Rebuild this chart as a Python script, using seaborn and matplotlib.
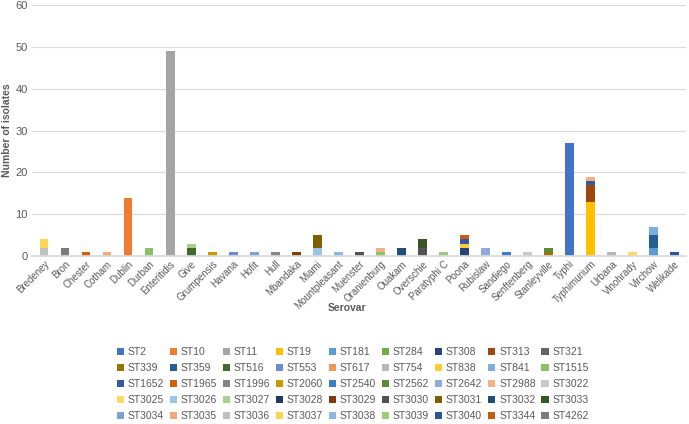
import matplotlib
matplotlib.use("Agg")
import matplotlib.pyplot as plt
from matplotlib.patches import Patch
import seaborn as sns
import pandas as pd

# ----------------- DATA -----------------
serovars = ["Bredeney", "Bron", "Chester", "Cotham", "Dublin", "Durban", "Enteritidis",
            "Give", "Grumpensis", "Havana", "Hofit", "Hull", "Mbandaka", "Miami",
            "Mountpleasant", "Muenster", "Oranienburg", "Ouakam", "Overschie",
            "Paratyphi C", "Poona", "Rubislaw", "Sandiego", "Senftenberg",
            "Stanleyville", "Typhi", "Typhimurium", "Urbana", "Vinohrady",
            "Virchow", "Welikade"]

sts = ["ST2", "ST10", "ST11", "ST19", "ST181", "ST284", "ST308", "ST313", "ST321",
       "ST339", "ST359", "ST516", "ST553", "ST617", "ST754", "ST838", "ST841", "ST1515",
       "ST1652", "ST1965", "ST1996", "ST2060", "ST2540", "ST2562", "ST2642", "ST2988", "ST3022",
       "ST3025", "ST3026", "ST3027", "ST3028", "ST3029", "ST3030", "ST3031", "ST3032", "ST3033",
       "ST3034", "ST3035", "ST3036", "ST3037", "ST3038", "ST3039", "ST3040", "ST3344", "ST4262"]

st_colors = ["#4472C4", "#ED7D31", "#A5A5A5", "#FFC000", "#5B9BD5", "#70AD47", "#264478", "#9E480E", "#636363",
             "#997300", "#255E91", "#43682B", "#698ED0", "#F1975A", "#B7B7B7", "#FFCD33", "#7CAFDD", "#8CC168",
             "#335AA1", "#D26012", "#848484", "#CC9A00", "#3C7DC4", "#5A8A39", "#8FAADC", "#F4B183", "#C9C9C9",
             "#FFD966", "#9DC3E6", "#A9D18E", "#203864", "#843C0C", "#525252", "#7F6000", "#1F4E79", "#385723",
             "#7F9FD9", "#F3A875", "#C0C0C0", "#FFD54F", "#8AB8E2", "#9ACA7C", "#2F5597", "#C55A11", "#7B7B7B"]

# (serovar, ST, isolates)
rec_serovar = ["Bredeney", "Bredeney", "Bron", "Chester", "Cotham", "Dublin", "Durban",
               "Enteritidis", "Give", "Give", "Grumpensis", "Havana", "Hofit", "Hull",
               "Mbandaka", "Miami", "Miami", "Mountpleasant", "Muenster", "Oranienburg",
               "Oranienburg", "Ouakam", "Overschie", "Overschie", "Paratyphi C",
               "Poona", "Poona", "Poona", "Poona", "Rubislaw", "Sandiego", "Senftenberg",
               "Stanleyville", "Stanleyville", "Typhi", "Typhimurium", "Typhimurium",
               "Typhimurium", "Typhimurium", "Urbana", "Vinohrady", "Virchow", "Virchow",
               "Virchow", "Welikade"]
rec_st = ["ST3036", "ST3037", "ST4262", "ST1965", "ST3035", "ST10", "ST1515",
          "ST11", "ST516", "ST3027", "ST2060", "ST553", "ST3034", "ST1996",
          "ST3029", "ST3026", "ST3031", "ST3038", "ST3030", "ST1515",
          "ST2988", "ST3032", "ST3030", "ST3033", "ST3039",
          "ST308", "ST838", "ST1652", "ST3344", "ST2642", "ST2540", "ST3022",
          "ST339", "ST2562", "ST2", "ST19", "ST313",
          "ST1652", "ST2988", "ST754", "ST3025", "ST181", "ST359",
          "ST841", "ST3040"]
rec_count = [2, 2, 2, 1, 1, 14, 2,
             49, 2, 1, 1, 1, 1, 1,
             1, 2, 3, 1, 1, 1,
             1, 2, 2, 2, 1,
             2, 1, 1, 1, 2, 1, 1,
             1, 1, 27, 13, 4,
             1, 1, 1, 1, 2, 3,
             2, 1]

df = pd.DataFrame({"Serovar": rec_serovar, "ST": rec_st, "n": rec_count})
df["Serovar"] = pd.Categorical(df["Serovar"], categories=serovars)
palette = dict(zip(sts, st_colors))

# ----------------- PLOT -----------------
sns.set_theme(style="white")
plt.rcParams["font.family"] = ["Liberation Sans", "DejaVu Sans"]

fig = plt.figure(figsize=(6.89, 4.24), dpi=100)
ax = fig.add_axes([0.047, 0.396, 0.949, 0.592])

used = [s for s in sts if s in set(rec_st)]
# histplot stacks the first hue level on top, so reverse to put low STs at the bottom
sns.histplot(data=df, x="Serovar", hue="ST", weights="n", multiple="stack",
             hue_order=used[::-1], palette=palette, discrete=True, shrink=0.42,
             linewidth=0, alpha=1, legend=False, ax=ax)

ax.set_ylim(0, 60)
ax.set_yticks(range(0, 61, 10))
ax.set_xlim(-0.55, len(serovars) - 0.45)
ax.yaxis.grid(True, color="#D9D9D9", linewidth=0.8)
ax.set_axisbelow(True)
for s in ["top", "right", "left"]:
    ax.spines[s].set_visible(False)
ax.spines["bottom"].set_color("#D9D9D9")

ax.set_xticks(range(len(serovars)))
ax.set_xticklabels(serovars, rotation=45, ha="right", rotation_mode="anchor",
                   fontsize=7, color="#595959")
ax.tick_params(axis="y", labelsize=8, colors="#595959", length=0)
ax.tick_params(axis="x", length=0, pad=2)
ax.set_ylabel("Number of isolates", fontsize=7.5, fontweight="bold", color="#595959")
ax.yaxis.set_label_coords(-0.031, 0.5)
ax.set_xlabel("Serovar", fontsize=7.5, fontweight="bold", color="#595959")
ax.xaxis.set_label_coords(0.481, -0.185)

handles = [Patch(facecolor=c, edgecolor="none") for c in st_colors]
ncol = 9
nrow = 5
order = []
for c in range(ncol):
    for r in range(nrow):
        i = r * ncol + c
        if i < len(sts):
            order.append(i)
fig.legend([handles[i] for i in order], [sts[i] for i in order], ncol=ncol,
           loc="upper center", bbox_to_anchor=(0.512, 0.187), frameon=False,
           fontsize=7.5, handlelength=0.7, handleheight=0.7, handletextpad=0.35,
           columnspacing=0.55, labelspacing=0.58, labelcolor="#595959",
           borderaxespad=0, borderpad=0.2)

fig.savefig("out.png", dpi=100)
